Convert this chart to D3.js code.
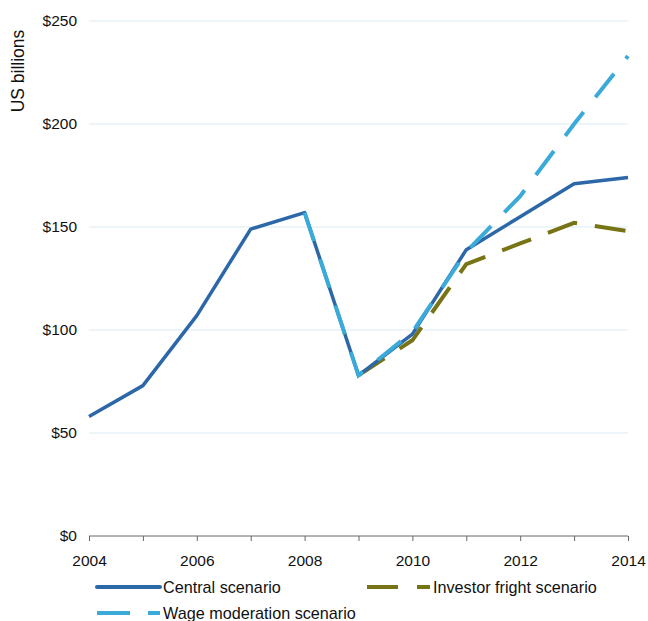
<!DOCTYPE html>
<html>
<head>
<meta charset="utf-8">
<script src="https://cdn.jsdelivr.net/npm/d3@7"></script>
<style>
  body { margin: 0; background: #fff; }
  svg { font-family: "Liberation Sans", Arial, sans-serif; }
</style>
</head>
<body>
<svg id="chart" width="648" height="621"></svg>
<script>
// data
const years = [2004, 2005, 2006, 2007, 2008, 2009, 2010, 2011, 2012, 2013, 2014];
const central = [58, 73, 107, 149, 157, 78, 98, 139, 155, 171, 174];
const wageYears = [2008, 2009, 2010, 2011, 2012, 2013, 2014];
const wage = [157, 78, 99, 138, 165, 200, 233];
const frightYears = [2009, 2010, 2011, 2012, 2013, 2014];
const fright = [78, 95, 132, 142, 152, 148];
const yTicks = [0, 50, 100, 150, 200, 250];
const xTickLabels = [2004, 2006, 2008, 2010, 2012, 2014];

const svg = d3.select('#chart');

const x = d3.scaleLinear().domain([2004, 2014]).range([89, 628]);
const y = d3.scaleLinear().domain([0, 250]).range([536, 21]);

// gridlines
svg.append('g')
  .selectAll('line')
  .data(yTicks.filter(d => d > 0))
  .enter().append('line')
    .attr('x1', x(2004)).attr('x2', x(2014))
    .attr('y1', d => y(d)).attr('y2', d => y(d))
    .attr('stroke', '#d9ecf5').attr('stroke-width', 1);

// y axis labels
svg.append('g')
  .selectAll('text')
  .data(yTicks)
  .enter().append('text')
    .attr('x', 77)
    .attr('y', d => y(d) + 5)
    .attr('text-anchor', 'end')
    .attr('font-size', 15.5)
    .attr('fill', '#111')
    .text(d => '$' + d);

// y axis title
svg.append('text')
  .attr('transform', 'rotate(-90)')
  .attr('x', -71)
  .attr('y', 24)
  .attr('text-anchor', 'middle')
  .attr('font-size', 17.5)
  .attr('fill', '#111')
  .text('US billions');

// x axis
const xAxis = d3.axisBottom(x)
  .tickValues(years)
  .tickSize(5)
  .tickFormat(d => xTickLabels.includes(d) ? d : '');
const gX = svg.append('g')
  .attr('transform', 'translate(0,' + y(0) + ')')
  .call(xAxis);
gX.select('.domain').attr('stroke', '#666').attr('d', 'M' + x(2004) + ',0H' + x(2014));
gX.selectAll('.tick line').attr('stroke', '#666');
gX.selectAll('.tick text')
  .attr('font-size', 15.5)
  .attr('font-family', '"Liberation Sans", Arial, sans-serif')
  .attr('fill', '#111')
  .attr('y', 30)
  .attr('dy', 0);

// lines
const line = d3.line().x(d => x(d[0])).y(d => y(d[1]));

svg.append('path')
  .datum(frightYears.map((d, i) => [d, fright[i]]))
  .attr('d', line)
  .attr('fill', 'none')
  .attr('stroke', '#767414')
  .attr('stroke-width', 4)
  .attr('stroke-dasharray', '31,18');

svg.append('path')
  .datum(years.map((d, i) => [d, central[i]]))
  .attr('d', line)
  .attr('fill', 'none')
  .attr('stroke', '#2c67a8')
  .attr('stroke-width', 3.5)
  .attr('stroke-linejoin', 'round');

svg.append('path')
  .datum(wageYears.map((d, i) => [d, wage[i]]))
  .attr('d', line)
  .attr('fill', 'none')
  .attr('stroke', '#3aaad8')
  .attr('stroke-width', 4)
  .attr('stroke-dasharray', '30,19');

// legend
const legend = [
  {name: 'Central scenario', color: '#2c67a8', dash: null, x: 97, y: 587},
  {name: 'Investor fright scenario', color: '#767414', dash: '31,19', x: 367, y: 587},
  {name: 'Wage moderation scenario', color: '#3aaad8', dash: '33,18', x: 97, y: 613}
];
const lg = svg.append('g').selectAll('g').data(legend).enter().append('g');
lg.append('line')
  .attr('x1', d => d.x).attr('x2', d => d.x + 63)
  .attr('y1', d => d.y).attr('y2', d => d.y)
  .attr('stroke', d => d.color)
  .attr('stroke-width', 4)
  .attr('stroke-linecap', d => d.dash ? 'butt' : 'round')
  .attr('stroke-dasharray', d => d.dash);
lg.append('text')
  .attr('x', d => d.x + 66)
  .attr('y', d => d.y + 6)
  .attr('font-size', 16.2)
  .attr('fill', '#111')
  .text(d => d.name);
</script>
</body>
</html>
